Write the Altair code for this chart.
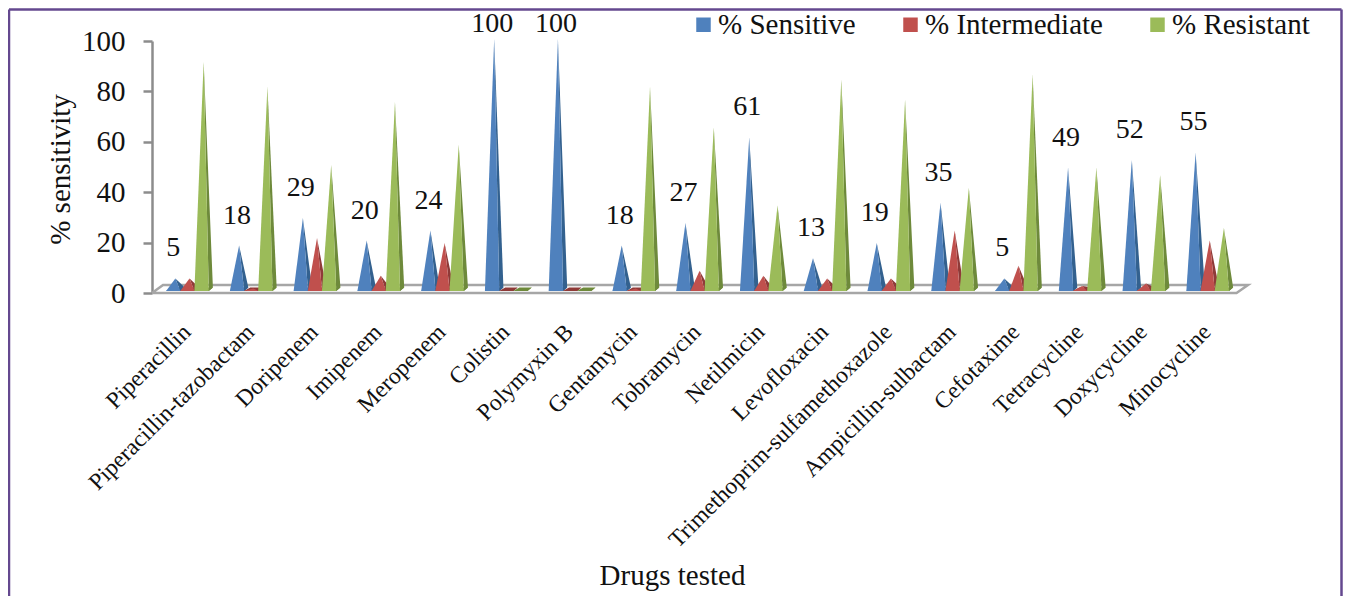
import json
import altair as alt
import pandas as pd

drugs = ["Piperacillin", "Piperacillin-tazobactam", "Doripenem", "Imipenem", "Meropenem",
         "Colistin", "Polymyxin B", "Gentamycin", "Tobramycin", "Netilmicin", "Levofloxacin",
         "Trimethoprim-sulfamethoxazole", "Ampicillin-sulbactam", "Cefotaxime", "Tetracycline",
         "Doxycycline", "Minocycline"]
sensitive = [5, 18, 29, 20, 24, 100, 100, 18, 27, 61, 13, 19, 35, 5, 49, 52, 55]
intermediate = [5, 1, 21, 6, 19, 0, 0, 1, 8, 6, 5, 5, 24, 10, 2, 3, 20]
resistant = [91, 81, 50, 75, 58, 0, 0, 81, 65, 34, 84, 76, 41, 86, 49, 46, 25]

series = ["% Sensitive", "% Intermediate", "% Resistant"]
light = ["#4F81BD", "#C0504D", "#9BBB59"]
dark = ["#33618F", "#8F3A38", "#6E8A3B"]
values = [sensitive, intermediate, resistant]

FONT = "Liberation Serif"
OFFSET = 0.222   # spacing between the three cones of a cluster
W = 0.145        # half width of a cone's base
BASE = 0.8       # height of the cone base above the axis zero
DEPTH = 1.4      # visual depth of the cone's footprint

layers = []

# floor plate
floor = pd.DataFrame({
    "x": [-0.588, 16.42, 16.6, -0.415, -0.588],
    "y": [0, 0, 3.2, 3.2, 0],
    "k": [0, 1, 2, 3, 4],
})
xs = alt.Scale(domain=[-0.588, 16.6], nice=False, zero=False)
ys = alt.Scale(domain=[0, 100], nice=False)

names_js = json.dumps(drugs)
x_axis = alt.Axis(values=list(range(17)), labelExpr=f"{names_js}[datum.value]",
                  labelAngle=-45, labelAlign="right", labelBaseline="middle",
                  labelFont=FONT, labelFontSize=23.5, labelColor="#111111", labelOffset=-3,
                  labelOverlap=False, labelBound=False, labelFlush=False, labelPadding=35,
                  ticks=False, domain=False, grid=False, title="Drugs tested",
                  titleFont=FONT, titleFontSize=29, titleFontWeight="normal", titleColor="#111111",
                  titleX=520, titleY=282, titleAlign="center", titleBaseline="middle", labelLimit=500)
y_axis = alt.Axis(values=[0, 20, 40, 60, 80, 100], labelFont=FONT, labelFontSize=29, labelColor="#111111",
                  labelPadding=18, tickSize=9, tickWidth=2.5, tickColor="#8c8c8c",
                  domainColor="#8c8c8c", domainWidth=2.5, grid=False, title="% sensitivity",
                  titleFont=FONT, titleFontSize=29, titleFontWeight="normal", titleColor="#111111",
                  titleX=-92, titleY=128, titleAlign="center", titleBaseline="middle")

layers.append(
    alt.Chart(floor).mark_line(color="#a6a6a6", strokeWidth=2.5, clip=False).encode(
        x=alt.X("x:Q", scale=xs, axis=x_axis),
        y=alt.Y("y:Q", scale=ys, axis=y_axis),
        order="k:Q",
    )
)

color_scale = alt.Scale(domain=series, range=light)
legend = alt.Legend(orient="none", legendX=537, legendY=-31, direction="horizontal", columns=3,
                    title=None, symbolType="square", symbolSize=210, symbolStrokeWidth=0,
                    labelFont=FONT, labelFontSize=29, labelColor="#111111", labelOffset=0,
                    columnPadding=40, gridAlign="each", labelLimit=400, symbolOpacity=1)

for s, name in enumerate(series):
    foot, front, side = [], [], []
    for i, v in enumerate(values[s]):
        c = i + (s - 1) * OFFSET
        h = v + BASE
        b0, b1 = BASE, BASE + DEPTH
        mid = c + 0.55 * W
        foot += [
            dict(g=i, x=c - W, y=b0, y2=b0),
            dict(g=i, x=c - W / 3, y=b1, y2=b0),
            dict(g=i, x=mid, y=b1, y2=b0),
            dict(g=i, x=c + W, y=b1, y2=b1),
        ]
        front += [
            dict(g=i, x=c - W, y=b0, y2=b0, s=name),
            dict(g=i, x=c, y=h, y2=b0, s=name),
            dict(g=i, x=mid, y=b0, y2=b0, s=name),
        ]
        side += [
            dict(g=i, x=c, y=h, y2=h),
            dict(g=i, x=mid, y=h + (b1 - h) * 0.55, y2=b0),
            dict(g=i, x=c + W, y=b1, y2=b1),
        ]
    layers.append(alt.Chart(pd.DataFrame(foot)).mark_area(color=dark[s], clip=False).encode(
        x=alt.X("x:Q", scale=xs), y=alt.Y("y:Q", scale=ys), y2="y2:Q", detail="g:N"))
    layers.append(alt.Chart(pd.DataFrame(side)).mark_area(color=dark[s], clip=False).encode(
        x=alt.X("x:Q", scale=xs), y=alt.Y("y:Q", scale=ys), y2="y2:Q", detail="g:N"))
    layers.append(alt.Chart(pd.DataFrame(front)).mark_area(clip=False).encode(
        x=alt.X("x:Q", scale=xs), y=alt.Y("y:Q", scale=ys), y2="y2:Q", detail="g:N",
        color=alt.Color("s:N", scale=color_scale, legend=legend)))

labels = pd.DataFrame({
    "x": [i - OFFSET for i in range(17)],
    "y": [min(v + BASE, 94.8) for v in sensitive],
    "t": [str(v) for v in sensitive],
})
layers.append(
    alt.Chart(labels).mark_text(font=FONT, fontSize=28, color="#111111", dy=-30, dx=-2,
                                baseline="middle", align="center", clip=False).encode(
        x=alt.X("x:Q", scale=xs), y=alt.Y("y:Q", scale=ys), text="t:N")
)

# purple frame of the figure
fc = "#64488F"
frame = [
    alt.Chart(pd.DataFrame({"a": [0]})).mark_rule(color=fc, strokeWidth=2.5, clip=False).encode(
        x=alt.value(-143), y=alt.value(-31.5), y2=alt.value(555)),
    alt.Chart(pd.DataFrame({"a": [0]})).mark_rule(color=fc, strokeWidth=2.5, clip=False).encode(
        x=alt.value(1189.5), y=alt.value(-31.5), y2=alt.value(555)),
    alt.Chart(pd.DataFrame({"a": [0]})).mark_rule(color=fc, strokeWidth=2.5, clip=False).encode(
        x=alt.value(-143), x2=alt.value(1189.5), y=alt.value(-31.5)),
]

chart = alt.layer(*layers, *frame).properties(
    width=1096, height=252, background="white",
    padding={"left": 144, "top": 33, "right": 95, "bottom": 303},
    autosize=alt.AutoSizeParams(type="none"),
).configure_view(stroke=None)

chart.save("out.html", embed_options={"renderer": "svg", "actions": False})
